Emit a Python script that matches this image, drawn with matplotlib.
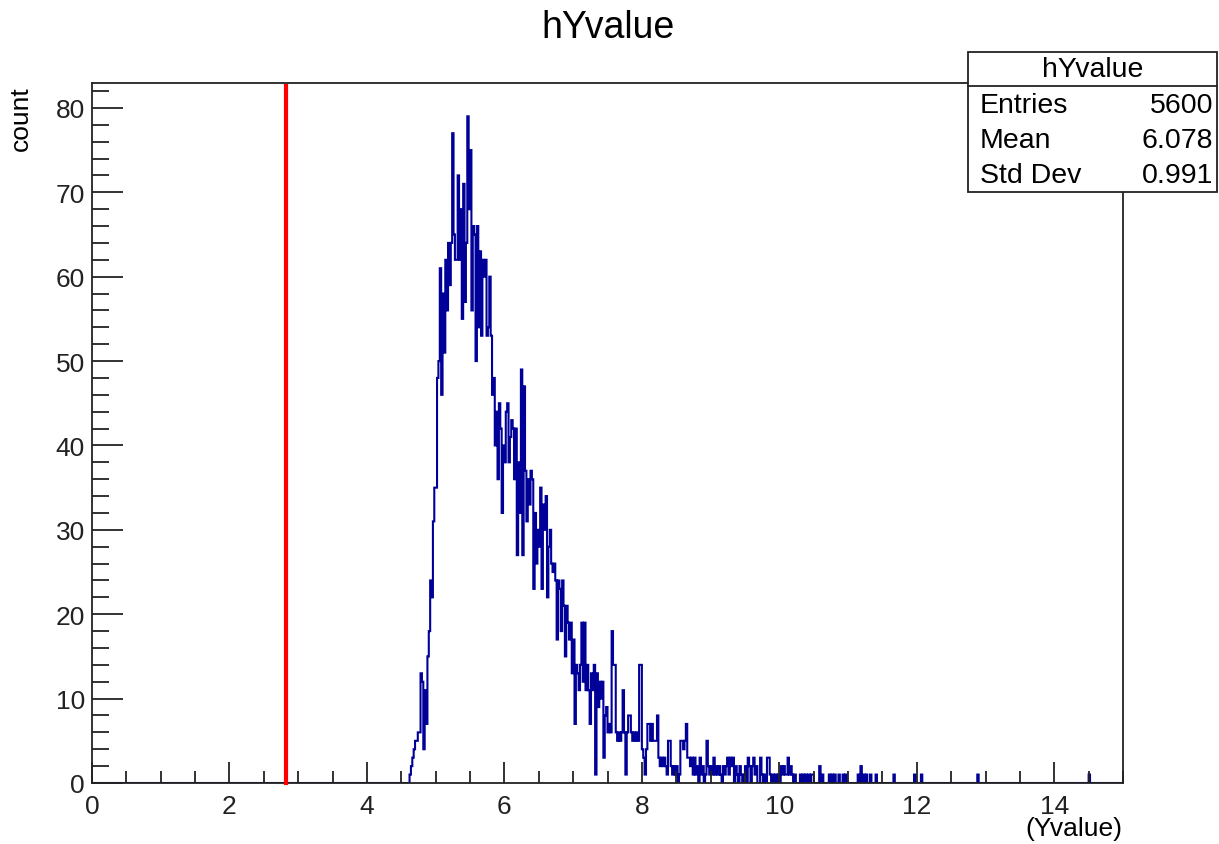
import numpy as np
import matplotlib
matplotlib.use("Agg")
import matplotlib.pyplot as plt
from matplotlib.ticker import MultipleLocator
from matplotlib.patches import Rectangle
from matplotlib.lines import Line2D

# ---------------- data ----------------
hist_name = "hYvalue"
x_title = "(Yvalue)"
y_title = "count"
x_min, x_max, n_bins = 0.0, 15.0, 750
cut_value = 2.82

# dense part: bin contents starting at x = 4.60 (bin width 0.02)
main_start = 4.60
main_counts = [
    0, 1, 2, 3, 4,        # 4.6
    5, 5, 6, 6, 13,       # 4.7
    12, 4, 11, 7, 15,     # 4.8
    18, 24, 22, 31, 35,   # 4.9
    35, 48, 50, 61, 46,   # 5.0
    58, 51, 62, 56, 64,   # 5.1
    59, 64, 77, 65, 62,   # 5.2
    62, 72, 62, 68, 55,   # 5.3
    71, 57, 64, 79, 68,   # 5.4
    75, 56, 66, 65, 50,   # 5.5
    66, 54, 63, 53, 62,   # 5.6
    60, 62, 53, 54, 60,   # 5.7
    53, 46, 48, 40, 44,   # 5.8
    36, 45, 42, 32, 40,   # 5.9
    38, 44, 45, 38, 41,   # 6.0
    43, 42, 36, 42, 27,   # 6.1
    38, 32, 49, 27, 47,   # 6.2
    37, 31, 36, 33, 37,   # 6.3
    36, 23, 32, 26, 30,   # 6.4
    28, 35, 23, 33, 30,   # 6.5
    34, 22, 28, 30, 26,   # 6.6
    25, 26, 24, 17, 24,   # 6.7
    23, 18, 24, 21, 15,   # 6.8
    21, 19, 17, 19, 13,   # 6.9
    17, 7, 14, 13, 11,    # 7.0
    14, 19, 12, 19, 11,   # 7.1
    14, 11, 7, 13, 11,    # 7.2
    14, 1, 13, 9, 12,     # 7.3
    10, 12, 3, 8, 9,      # 7.4
    6, 7, 6, 18, 14,      # 7.5
    14, 6, 5, 6, 5,       # 7.6
    6, 11, 6, 1, 6,       # 7.7
    8, 8, 6, 5, 6,        # 7.8
    5, 6, 5, 14, 14,      # 7.9
    4, 3, 1, 4, 7,        # 8.0
    7, 5, 7, 5, 5,        # 8.1
    5, 8, 3, 2, 3,        # 8.2
    2, 3, 2, 1, 5,        # 8.3
    5, 2, 1, 2, 1,        # 8.4
    2, 0, 1, 5, 5,        # 8.5
    4, 5, 7, 3, 3,        # 8.6
    2, 3, 1, 3, 1,        # 8.7
    2, 0, 3, 1, 2,        # 8.8
    0, 1, 5, 2, 1,        # 8.9
    2, 1, 3, 1, 2,        # 9.0
    1, 2, 1, 0, 2,        # 9.1
    1, 2, 3, 1, 3,        # 9.2
    2, 3, 0, 2, 1,        # 9.3
    0, 2, 1, 0, 1,        # 9.4
    2, 0, 3, 2, 0,        # 9.5
    2, 3, 1, 2, 0,        # 9.6
    0, 3, 1, 0, 1,        # 9.7
    0, 3, 3, 1, 0,        # 9.8
    1, 0, 1, 0, 1,        # 9.9
    0, 2, 1, 2, 1,        # 10.0
    1, 3, 1, 2, 1,        # 10.1
    0, 1, 0, 0, 0,        # 10.2
    1, 0, 1, 0, 1,        # 10.3
    0, 1, 0, 1, 1,        # 10.4
]

# sparse tail: bin low edges and contents
tail_x = [10.58, 10.62, 10.72, 10.76, 10.80, 10.86, 10.92, 10.96,
          11.14, 11.18, 11.22, 11.26, 11.32, 11.40, 11.66, 11.96,
          12.06, 12.88, 14.50]
tail_counts = [2, 1, 1, 1, 1, 1, 1, 1,
               1, 2, 1, 1, 1, 1, 1, 1,
               1, 1, 1]

stat_labels = ["Entries", "Mean", "Std Dev"]
stat_values = ["5600", "6.078", "0.991"]

# ---------------- build histogram ----------------
bw = (x_max - x_min) / n_bins
edges = np.linspace(x_min, x_max, n_bins + 1)
counts = np.zeros(n_bins)
i0 = int(round((main_start - x_min) / bw))
counts[i0:i0 + len(main_counts)] = main_counts
for xv, c in zip(tail_x, tail_counts):
    counts[int(round((xv - x_min) / bw))] = c

W, H = 1219, 845
fig = plt.figure(figsize=(W / 100, H / 100), dpi=100)
plt.rcParams['font.family'] = ['Liberation Sans', 'DejaVu Sans']

L, R, T, B = 92, 1123, 84, 784
ax = fig.add_axes([L / W, 1 - B / H, (R - L) / W, (B - T) / H])

ax.stairs(counts, edges, color='#000099', lw=1.5, baseline=0)
ax.set_xlim(x_min, x_max)
ax.set_ylim(0, counts.max() * 1.05)

ax.plot([cut_value, cut_value], [0, counts.max() * 1.05 - 0.3], color='#ff0000',
        lw=3.0, solid_capstyle='projecting', clip_on=False, zorder=5)

for s in ax.spines.values():
    s.set_linewidth(1.3)
    s.set_color('#222222')

ax.xaxis.set_major_locator(MultipleLocator(2))
ax.xaxis.set_minor_locator(MultipleLocator(0.5))
ax.yaxis.set_major_locator(MultipleLocator(10))
ax.yaxis.set_minor_locator(MultipleLocator(2))
ax.tick_params(axis='x', which='major', direction='in', length=15, width=1.3,
               labelsize=19, pad=8, top=False, colors='#222222')
ax.tick_params(axis='x', which='minor', direction='in', length=8.5, width=1.3, top=False,
               colors='#222222')
ax.tick_params(axis='y', which='major', direction='in', length=22, width=1.3,
               labelsize=19, pad=5, right=False, colors='#222222')
ax.tick_params(axis='y', which='minor', direction='in', length=12, width=1.3, right=False,
               colors='#222222')

# title and axis titles
fig.text(608 / W, 1 - 28 / H, hist_name, ha='center', va='center', fontsize=27)
fig.text(21 / W, 1 - 86 / H, y_title, ha='center', va='top', rotation=90, fontsize=19)
fig.text(1122 / W, 1 - 829 / H, x_title, ha='right', va='center', fontsize=19)

# stats box
bx0, bx1, by0, by1, bsep = 968, 1217, 53, 193, 87
fig.patches.append(Rectangle((bx0 / W, 1 - by1 / H), (bx1 - bx0) / W, (by1 - by0) / H,
                             transform=fig.transFigure, facecolor='white',
                             edgecolor='#222222', lw=1.3, zorder=10))
fig.lines.append(Line2D([bx0 / W, bx1 / W], [1 - bsep / H, 1 - bsep / H],
                        transform=fig.transFigure, color='#222222', lw=1.3, zorder=11))
fig.text((bx0 + bx1) / 2 / W, 1 - 70 / H, hist_name, ha='center', va='center',
         fontsize=20.5, zorder=12)
rows_y = [106, 141, 176]
for lab, val, yy in zip(stat_labels, stat_values, rows_y):
    fig.text(980 / W, 1 - yy / H, lab, ha='left', va='center', fontsize=20.5, zorder=12)
    fig.text(1213 / W, 1 - yy / H, val, ha='right', va='center', fontsize=20.5, zorder=12)

fig.savefig("out.png", dpi=100, facecolor='white')
